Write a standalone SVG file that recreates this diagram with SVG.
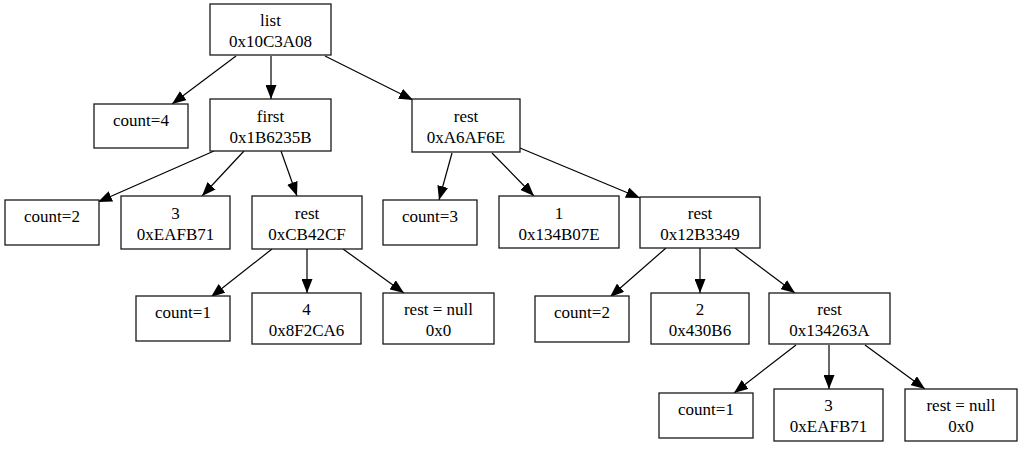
<svg xmlns="http://www.w3.org/2000/svg" width="1024" height="449" viewBox="0 0 1024 449">
<style>
rect{fill:#fff;stroke:#1a1a1a;stroke-width:1.3}
text{font-family:"Liberation Serif","Times New Roman",serif;font-size:17px;fill:#000;text-anchor:middle}
.e line{stroke:#000;stroke-width:1.2;marker-end:url(#ah)}
</style>
<defs>
<marker id="ah" markerUnits="userSpaceOnUse" markerWidth="14" markerHeight="11" refX="14" refY="5.5" orient="auto" viewBox="0 0 14 11">
<path d="M0,0 L14,5.5 L0,11 z" fill="#000"/>
</marker>
</defs>
<rect width="1024" height="449" style="fill:#fff;stroke:none"/>
<g class="e" id="connectors">
<line x1="236" y1="56" x2="172" y2="104"/>
<line x1="271" y1="56" x2="271" y2="99"/>
<line x1="325" y1="56" x2="413" y2="100"/>
<line x1="214" y1="151" x2="98" y2="202"/>
<line x1="244" y1="151" x2="202" y2="196"/>
<line x1="281" y1="151" x2="297" y2="196"/>
<line x1="272" y1="249" x2="211" y2="297"/>
<line x1="307" y1="249" x2="307" y2="293"/>
<line x1="343" y1="249" x2="404" y2="293"/>
<line x1="452" y1="153" x2="439" y2="200"/>
<line x1="492" y1="153" x2="534" y2="196"/>
<line x1="520" y1="148" x2="640" y2="198"/>
<line x1="666" y1="248" x2="610" y2="297"/>
<line x1="700" y1="248" x2="700" y2="293"/>
<line x1="735" y1="248" x2="795" y2="293"/>
<line x1="796" y1="345" x2="734" y2="393"/>
<line x1="829" y1="345" x2="829" y2="389"/>
<line x1="865" y1="345" x2="925" y2="389"/>
</g>
<g id="list"><rect x="210" y="4" width="121" height="51"/><text x="270.5" y="26">list</text><text x="270.5" y="47">0x10C3A08</text></g>
<g id="count4"><rect x="94" y="104" width="94" height="44"/><text x="141" y="126">count=4</text></g>
<g id="first"><rect x="210" y="99" width="121" height="52"/><text x="270.5" y="122">first</text><text x="270.5" y="143">0x1B6235B</text></g>
<g id="restA"><rect x="412" y="99" width="108" height="53"/><text x="466" y="122">rest</text><text x="466" y="143">0xA6AF6E</text></g>
<g id="count2a"><rect x="5" y="200" width="94" height="45"/><text x="52" y="222">count=2</text></g>
<g id="n3a"><rect x="121" y="196" width="109" height="53"/><text x="175.5" y="219">3</text><text x="175.5" y="240">0xEAFB71</text></g>
<g id="restB"><rect x="252" y="196" width="110" height="53"/><text x="307" y="219">rest</text><text x="307" y="240">0xCB42CF</text></g>
<g id="count3"><rect x="383" y="200" width="94" height="45"/><text x="430" y="222">count=3</text></g>
<g id="n1"><rect x="499" y="196" width="120" height="52"/><text x="559" y="219">1</text><text x="559" y="240">0x134B07E</text></g>
<g id="restC"><rect x="640" y="197" width="120" height="51"/><text x="700" y="219">rest</text><text x="700" y="240">0x12B3349</text></g>
<g id="count1a"><rect x="136" y="296" width="94" height="45"/><text x="183" y="318">count=1</text></g>
<g id="n4"><rect x="252" y="293" width="109" height="51"/><text x="306.5" y="315">4</text><text x="306.5" y="336">0x8F2CA6</text></g>
<g id="nullA"><rect x="383" y="293" width="111" height="51"/><text x="438.5" y="315">rest = null</text><text x="438.5" y="336">0x0</text></g>
<g id="count2b"><rect x="535" y="296" width="94" height="46"/><text x="582" y="318">count=2</text></g>
<g id="n2"><rect x="651" y="293" width="98" height="51"/><text x="700" y="315">2</text><text x="700" y="336">0x430B6</text></g>
<g id="restD"><rect x="769" y="293" width="121" height="51"/><text x="829.5" y="315">rest</text><text x="829.5" y="336">0x134263A</text></g>
<g id="count1b"><rect x="659" y="393" width="94" height="45"/><text x="706" y="415">count=1</text></g>
<g id="n3b"><rect x="774" y="389" width="109" height="52"/><text x="828.5" y="411">3</text><text x="828.5" y="432">0xEAFB71</text></g>
<g id="nullB"><rect x="905" y="389" width="112" height="52"/><text x="961" y="411">rest = null</text><text x="961" y="432">0x0</text></g>
</svg>
